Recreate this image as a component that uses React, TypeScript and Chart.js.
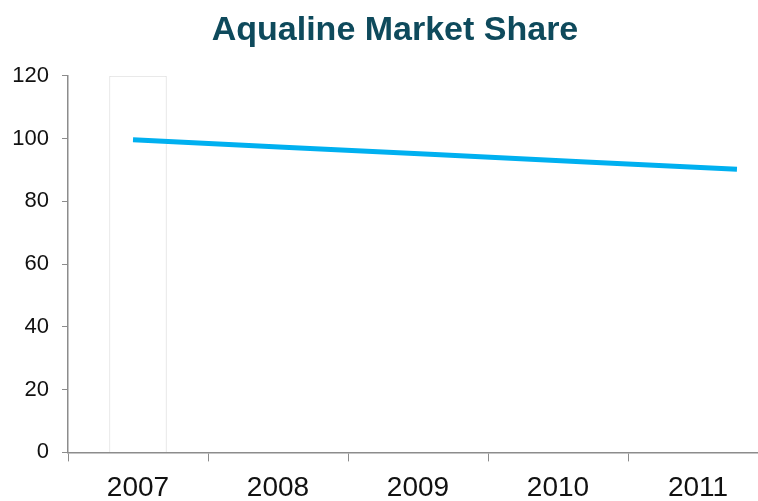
import React, { useEffect, useRef } from "react";
import { Chart, registerables } from "chart.js";

Chart.register(...registerables);

const categories = ["2007", "2008", "2009", "2010", "2011"];
const barValues: (number | null)[] = [120, null, null, null, null];
const lineValues = [99.6, 97.2, 94.9, 92.5, 90.2];
const yTicks = [0, 20, 40, 60, 80, 100, 120];
const titleText = "Aqualine Market Share";

const FONT = "'Liberation Sans', Arial, sans-serif";

export default function App() {
  const ref = useRef<HTMLCanvasElement | null>(null);

  useEffect(() => {
    if (!ref.current) return;
    const chart = new Chart(ref.current, {
      type: "bar",
      data: {
        labels: categories,
        datasets: [
          {
            type: "line",
            data: lineValues.map((v, i) => ({ x: i, y: v })),
            xAxisID: "xLine",
            yAxisID: "y",
            borderColor: "#00b0f0",
            borderWidth: 5,
            pointRadius: 0,
            fill: false,
            tension: 0,
            order: 1,
          } as any,
          {
            type: "bar",
            data: barValues,
            xAxisID: "x",
            yAxisID: "y",
            backgroundColor: "#ffffff",
            borderColor: "#d9d9d9",
            borderWidth: 1,
            grouped: false,
            barPercentage: 0.41,
            categoryPercentage: 1,
            order: 2,
          } as any,
        ],
      },
      options: {
        responsive: false,
        animation: false,
        devicePixelRatio: 1,
        layout: { padding: { left: 2, right: 2, top: 0, bottom: -14 } },
        plugins: {
          legend: { display: false },
          tooltip: { enabled: false },
          title: {
            display: true,
            text: titleText,
            color: "#0e4a5c",
            font: { family: FONT, size: 34, weight: "bold" },
            padding: { top: 2, bottom: 25 },
          },
        },
        scales: {
          x: {
            type: "category",
            offset: true,
            grid: {
              offset: true,
              drawOnChartArea: false,
              drawTicks: true,
              tickLength: 9,
              color: "#8c8c8c",
            },
            border: { color: "#8c8c8c", width: 1.5 },
            ticks: {
              color: "#111111",
              font: { family: FONT, size: 28 },
              padding: 10,
              maxRotation: 0,
            },
          },
          xLine: {
            type: "linear",
            display: false,
            offset: false,
            min: -0.4305,
            max: 4.2055,
          },
          y: {
            type: "linear",
            min: 0,
            max: 120,
            afterBuildTicks: (axis: any) => {
              axis.ticks = yTicks.map((v) => ({ value: v }));
            },
            afterFit: (axis: any) => {
              axis.width = 58;
            },
            grid: {
              drawOnChartArea: false,
              drawTicks: true,
              tickLength: 6,
              color: "#8c8c8c",
            },
            border: { color: "#8c8c8c", width: 1.5 },
            ticks: {
              color: "#111111",
              font: { family: FONT, size: 22 },
              padding: 13,
            },
          },
          ySpacer: {
            type: "linear",
            position: "right",
            display: true,
            grid: { display: false, drawTicks: false },
            border: { display: false },
            ticks: { display: false },
            afterFit: (axis: any) => {
              axis.width = 12;
            },
          },
        },
      },
    });
    return () => chart.destroy();
  }, []);

  return (
    <div
      style={{
        position: "fixed",
        left: 0,
        top: 0,
        width: 758,
        height: 501,
        overflow: "hidden",
      }}
    >
      <canvas
        ref={ref}
        width={774}
        height={493}
        style={{ display: "block", marginLeft: 8, marginTop: 8 }}
      />
    </div>
  );
}
